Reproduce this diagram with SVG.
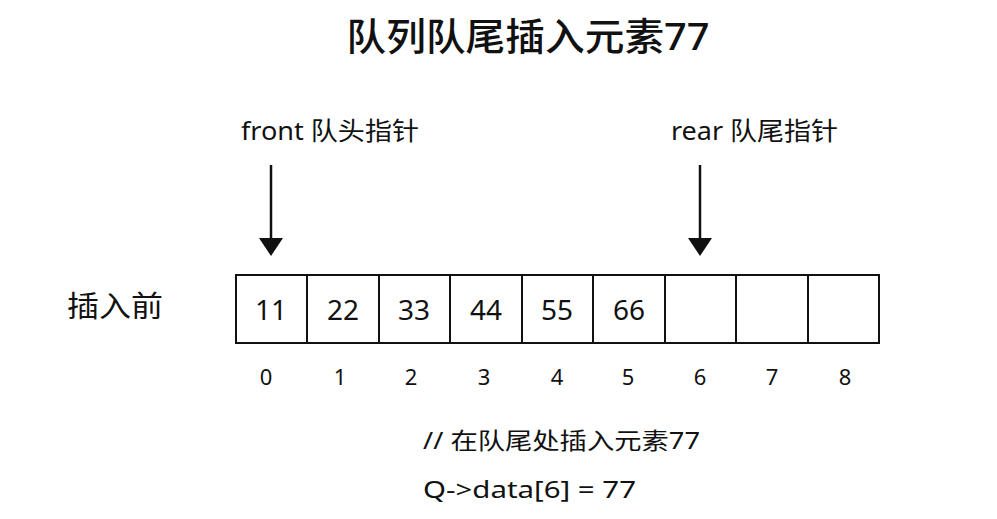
<svg xmlns="http://www.w3.org/2000/svg" width="997" height="519" viewBox="0 0 997 519">
<style>
.t{font-family:"Noto Sans","Noto Sans CJK SC",sans-serif;fill:#111}
.cell{fill:#fff;stroke:#111;stroke-width:2}
.v{font-size:28px;text-anchor:middle}
.i{font-size:22px;text-anchor:middle}
</style>
<rect width="997" height="519" fill="#fff"/>
<text class="t" x="528" y="50" font-size="38" font-weight="500" text-anchor="middle" textLength="363" lengthAdjust="spacingAndGlyphs">队列队尾插入元素77</text>
<g id="front"><text class="t" x="241" y="140" font-size="25" textLength="178" lengthAdjust="spacingAndGlyphs">front 队头指针</text></g>
<g id="rear"><text class="t" x="671" y="140" font-size="25" textLength="167" lengthAdjust="spacingAndGlyphs">rear 队尾指针</text></g>
<g id="connectors">
<line x1="271" y1="165" x2="271" y2="238" stroke="#111" stroke-width="2.5"/>
<path d="M259,238 L283,238 L271,256z" fill="#111"/>
<line x1="700" y1="165" x2="700" y2="238" stroke="#111" stroke-width="2.5"/>
<path d="M688,238 L712,238 L700,256z" fill="#111"/>
</g>
<g id="label"><text class="t" x="67" y="317" font-size="29" textLength="96" lengthAdjust="spacingAndGlyphs">插入前</text></g>
<g id="array">
<rect class="cell" x="236" y="275" width="643" height="68"/>
<path d="M307,275V343M379,275V343M450,275V343M522,275V343M593,275V343M665,275V343M736,275V343M808,275V343" stroke="#111" stroke-width="2"/>
<g class="t v"><text x="271" y="320">11</text><text x="343" y="320">22</text><text x="414" y="320">33</text><text x="486" y="320">44</text><text x="557" y="320">55</text><text x="629" y="320">66</text></g>
<g class="t i"><text x="266" y="385">0</text><text x="340" y="385">1</text><text x="411" y="385">2</text><text x="484" y="385">3</text><text x="557" y="385">4</text><text x="628" y="385">5</text><text x="700" y="385">6</text><text x="772" y="385">7</text><text x="845" y="385">8</text></g>
</g>
<g id="code">
<text class="t" x="423" y="449" font-size="23" textLength="277" lengthAdjust="spacingAndGlyphs">// 在队尾处插入元素77</text>
<text class="t" x="423" y="498" font-size="23" textLength="213" lengthAdjust="spacingAndGlyphs">Q-&gt;data[6] = 77</text>
</g>
</svg>
